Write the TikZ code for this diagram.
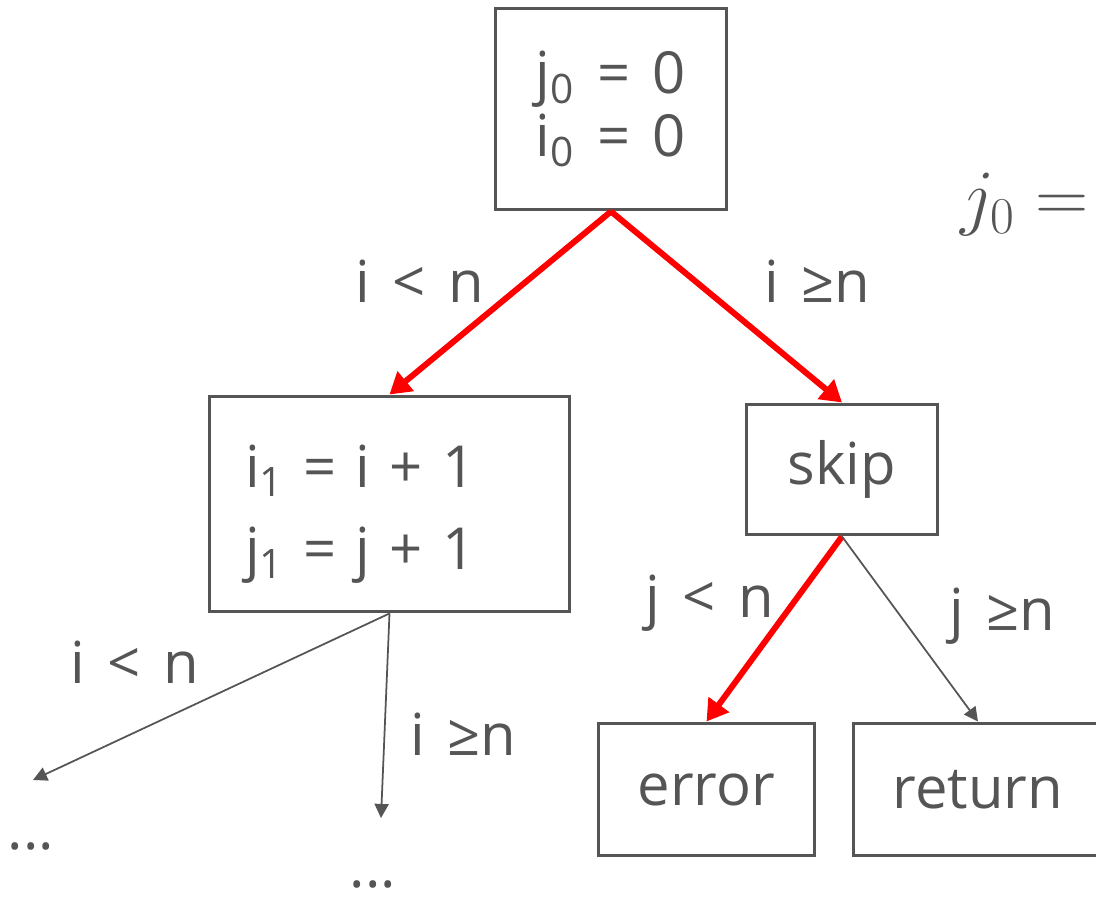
\RequirePackage{fix-cm}
\documentclass[tikz,border=0pt]{standalone}
\usepackage{fontspec}
\setmainfont{Open Sans}[WordSpace=1.5]
\usetikzlibrary{arrows.meta,positioning}
\definecolor{ink}{HTML}{555555}

\begin{document}
\begin{tikzpicture}[
    x=0.02cm, y=-0.02cm,
    every node/.style={text=ink, font=\fontsize{33}{40}\selectfont},
    box/.style={rectangle, draw=ink, line width=1.7pt, align=center, inner sep=0pt},
    lbl/.style={inner sep=0pt, anchor=base},
    redarrow/.style={-{Triangle[length=12pt,width=14pt]}, draw=red, line width=3.4pt},
    grayarrow/.style={-{Triangle[length=8pt,width=8pt]}, draw=ink, line width=1pt}
]
    \clip (0,0) rectangle (1096,898);

    % boxes
    \node[box, minimum width=4.64cm, minimum height=4.04cm] (init) at (611,109)
        {j\textsubscript{0} = 0\\[-4pt]i\textsubscript{0} = 0};
    \node[box, minimum width=7.22cm, minimum height=4.32cm, align=left,
          text width=5.78cm, inner xsep=0.72cm] (incr) at (389.5,504)
        {\rule{0pt}{36pt}i\textsubscript{1} = i + 1\\[7pt]j\textsubscript{1} = j + 1};
    \node[box, minimum width=3.84cm, minimum height=2.62cm] (skip) at (842,469.5) {skip};
    \node[box, minimum width=4.34cm, minimum height=2.66cm] (error) at (706.5,789.5) {error};
    \node[box, minimum width=5.0cm, minimum height=2.66cm] (return) at (978,789.5) {return};

    % loose ends
    \node[lbl] (dotsA) at (31,849) {...};
    \node[lbl] (dotsB) at (373,887) {...};
    \coordinate (endA) at (33,780);
    \coordinate (endB) at (381,818);

    % labels
    \node[lbl] (ltA) at (420,303) {i < n};
    \node[lbl] (geA) at (817,303) {i ≥n};
    \node[lbl] (ltB) at (710,618) {j < n};
    \node[lbl] (geB) at (1002,630) {j ≥n};
    \node[lbl] (ltC) at (135,683) {i < n};
    \node[lbl] (geC) at (463,755) {i ≥n};
    \node[lbl, anchor=base west, font=\fontsize{42}{48}\selectfont] (side) at (960,222) {$j_0 =$};

    \draw[redarrow] (init.south) -- (incr.north);
    \draw[redarrow] (init.south) -- (skip.north);
    \draw[redarrow] (skip.south) -- (error.north);
    \draw[grayarrow] (skip.south) -- (return.north);
    \draw[grayarrow] (incr.south) -- (endA);
    \draw[grayarrow] (incr.south) -- (endB);
\end{tikzpicture}
\end{document}
